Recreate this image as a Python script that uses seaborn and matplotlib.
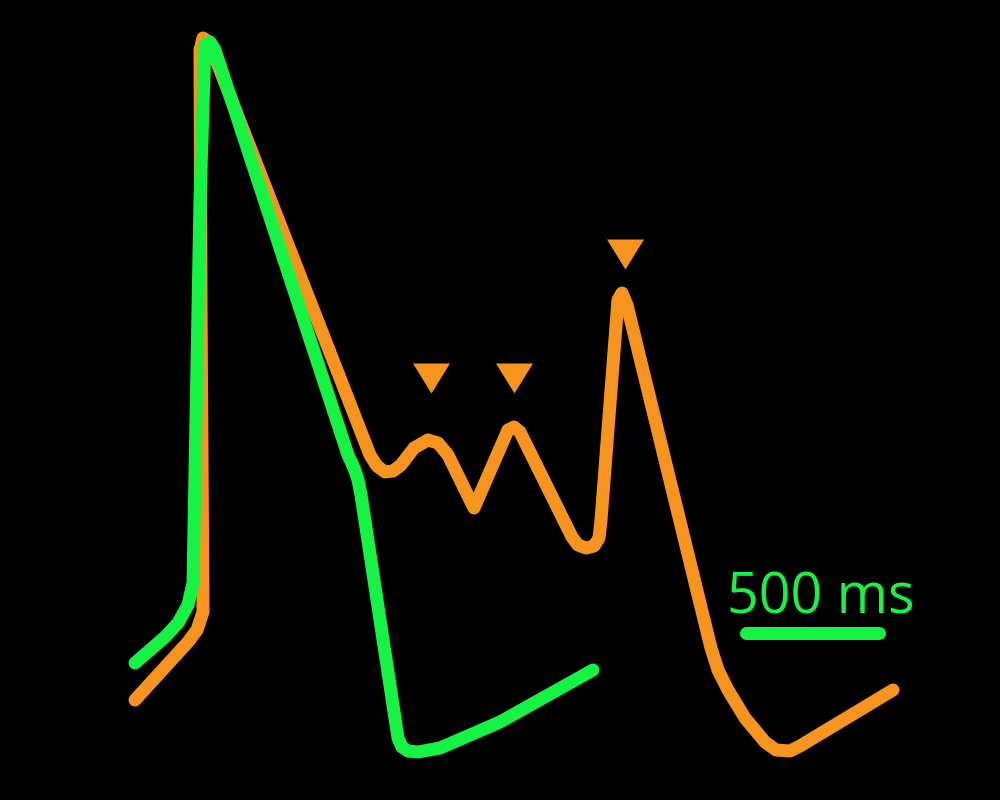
import matplotlib
matplotlib.use("Agg")
import matplotlib.pyplot as plt
import seaborn as sns

# ---- data (x = time axis, y = signal axis, inverted) ----
orange_x = [135, 188, 197, 203, 201, 200, 203, 209, 370, 377, 385, 393, 401, 414, 428, 438, 448,
            474, 508, 514, 520, 572, 578, 586, 594, 599, 601, 618, 622, 627, 711, 718, 728, 745,
            765, 776, 790, 800, 893]
orange_y = [700, 642, 630, 612, 300, 50, 38, 42, 455, 466, 472, 471, 465, 448, 440, 443, 455,
            508, 430, 427, 432, 537, 545, 548, 546, 538, 520, 300, 293, 305, 648, 670, 690, 718,
            742, 750, 751, 746, 690]

green_x = [135, 165, 178, 188, 193, 200, 205, 210, 215, 348, 354, 358, 361, 398, 402, 408, 418,
           440, 500, 593]
green_y = [663, 637, 623, 605, 583, 200, 45, 42, 50, 455, 468, 480, 495, 738, 747, 751, 752,
           748, 722, 670]

peak_x = [431, 514, 625]
peak_y = [378, 378, 254]

scale_x = [746, 879]
scale_y = [633, 633]
scale_label = "500 ms"

ORANGE = "#F7941E"
GREEN = "#15F442"

sns.set_theme(style="white")
plt.rcParams['font.family'] = ['Open Sans', 'DejaVu Sans']

fig = plt.figure(figsize=(10, 8), dpi=100, facecolor="black")
ax = fig.add_axes([0, 0, 1, 1])
ax.set_facecolor("black")

lw = 13 * 72 / 100  # ~13 px

sns.lineplot(x=orange_x, y=orange_y, sort=False, estimator=None, ax=ax, color=ORANGE,
             linewidth=lw, solid_capstyle="round", solid_joinstyle="round")
sns.lineplot(x=green_x, y=green_y, sort=False, estimator=None, ax=ax, color=GREEN,
             linewidth=lw, solid_capstyle="round", solid_joinstyle="round")

tri = [(-18.5, 15), (18.5, 15), (0, -15)]
sns.scatterplot(x=peak_x, y=peak_y, ax=ax, marker=tri, s=(37 * 72 / 100) ** 2,
                color=ORANGE, linewidth=0)

sns.lineplot(x=scale_x, y=scale_y, sort=False, estimator=None, ax=ax, color=GREEN,
             linewidth=lw, solid_capstyle="round")
ax.text(727, 613, scale_label, color=GREEN, fontsize=40, ha="left", va="baseline")

ax.set_xlim(0, 1000)
ax.set_ylim(800, 0)
ax.axis("off")
if ax.get_legend():
    ax.get_legend().remove()

fig.savefig("out.png", dpi=100, facecolor="black")
